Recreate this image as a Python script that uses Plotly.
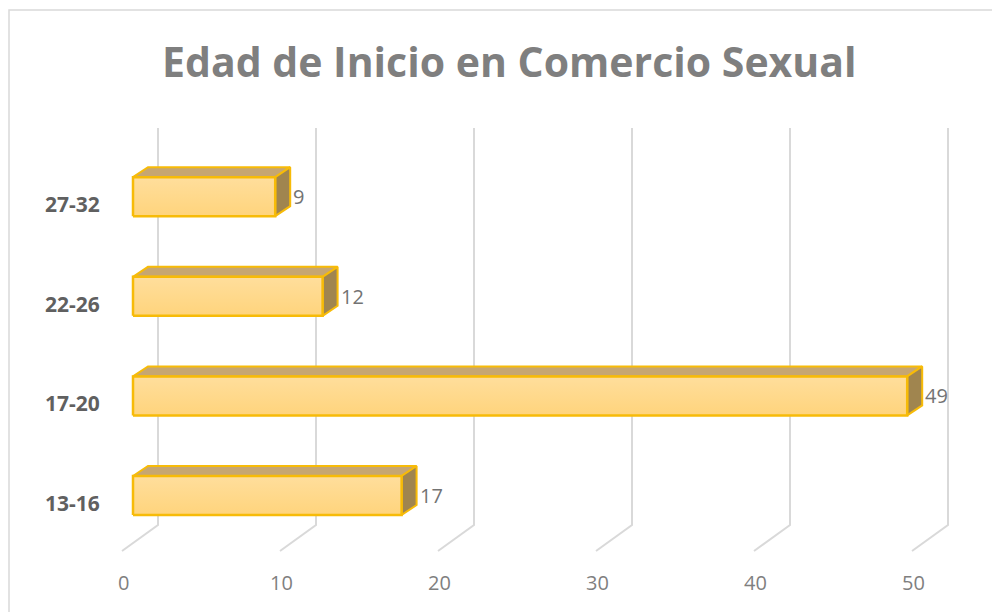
import plotly.graph_objects as go

# ---- data ----
categories = ["13-16", "17-20", "22-26", "27-32"]
values = [17, 49, 12, 9]
tick_values = [0, 10, 20, 30, 40, 50]
tick_labels = ["0", "10", "20", "30", "40", "50"]
title_text = "Edad de Inicio en Comercio Sexual"

# ---- layout geometry (pixel -> axis units) ----
W, H = 1000, 612
OFF = 8                      # page body margin offset
X0PX, PXU = 133.0 - OFF, 15.8   # px of value 0 on bar front, px per unit
Y0PX, PXC = 495.5 - OFF, 99.6   # px of first category centre, px per category


def xu(px):
    return (px - OFF - X0PX) / PXU


def yu(py):
    return (Y0PX - (py - OFF)) / PXC


HALF = 19.5 / PXC            # half bar thickness
DX = 15.0 / PXU              # depth offset x
DY = 10.0 / PXC              # depth offset y
GRID_BACK = 25.0 / PXU       # back wall offset
GRID_FRONT = -11.0 / PXU     # floor front offset

OUTLINE = "#F7BB08"
TOP_C = "#C6A672"
SIDE_C = "#A0854F"

fig = go.Figure()

# gridlines (back wall + floor diagonal)
for v in tick_values:
    fig.add_trace(go.Scatter(
        x=[v + GRID_BACK, v + GRID_BACK, v + GRID_FRONT],
        y=[yu(128), yu(525), yu(551)],
        mode="lines", line=dict(color="#D9D9D9", width=2),
        hoverinfo="skip", showlegend=False))

# bars
for i, (c, v) in enumerate(zip(categories, values)):
    t, b = i + HALF, i - HALF
    # top face
    fig.add_trace(go.Scatter(
        x=[0, v, v + DX, DX, 0], y=[t, t, t + DY, t + DY, t],
        mode="lines", fill="toself", fillcolor=TOP_C,
        line=dict(color=OUTLINE, width=2), hoverinfo="skip", showlegend=False))
    # side face
    fig.add_trace(go.Scatter(
        x=[v, v + DX, v + DX, v, v], y=[b, b + DY, t + DY, t, b],
        mode="lines", fill="toself", fillcolor=SIDE_C,
        line=dict(color=OUTLINE, width=2), hoverinfo="skip", showlegend=False))
    # front face
    fig.add_trace(go.Scatter(
        x=[0, v, v, 0, 0], y=[b, b, t, t, b],
        mode="lines", fill="toself",
        fillgradient=dict(type="vertical",
                          colorscale=[[0, "#FFD47C"], [1, "#FFDE9C"]]),
        line=dict(color=OUTLINE, width=2.5), hoverinfo="skip", showlegend=False))
    # data label
    fig.add_annotation(x=v + DX, y=i, xref="x", yref="y", text=str(v),
                       showarrow=False, xanchor="left", yanchor="middle", xshift=1,
                       font=dict(family="Open Sans", size=20, color="#737373"))
    # category label
    fig.add_annotation(x=xu(102), y=i - 0.075, xref="x", yref="y", text=f"<b>{c}</b>",
                       showarrow=False, xanchor="right", yanchor="middle",
                       font=dict(family="Open Sans", size=21, color="#606060"))

# value tick labels
for v, lab in zip(tick_values, tick_labels):
    fig.add_annotation(x=v + xu(123), y=yu(582), xref="x", yref="y", text=lab,
                       showarrow=False, xanchor="center", yanchor="middle",
                       font=dict(family="Open Sans", size=20, color="#7F7F7F"))

# title
fig.add_annotation(x=(509 - OFF) / W, y=1 - (61 - OFF) / H, xref="paper", yref="paper",
                   text=f"<b>{title_text}</b>", showarrow=False,
                   xanchor="center", yanchor="middle",
                   font=dict(family="Open Sans", size=41, color="#7F7F7F"))

# chart frame
fig.add_shape(type="rect", xref="paper", yref="paper",
              x0=1 / W, x1=1.01, y0=-0.02, y1=1 - 2 / H,
              line=dict(color="#D9D9D9", width=1.5), fillcolor="rgba(0,0,0,0)", layer="below")

fig.update_layout(
    width=W, height=H,
    margin=dict(l=0, r=0, t=0, b=0),
    paper_bgcolor="white", plot_bgcolor="white",
    xaxis=dict(range=[xu(OFF), xu(W + OFF)], visible=False, fixedrange=True),
    yaxis=dict(range=[yu(H + OFF), yu(OFF)], visible=False, fixedrange=True),
    showlegend=False,
)

fig.write_html("out.html")
